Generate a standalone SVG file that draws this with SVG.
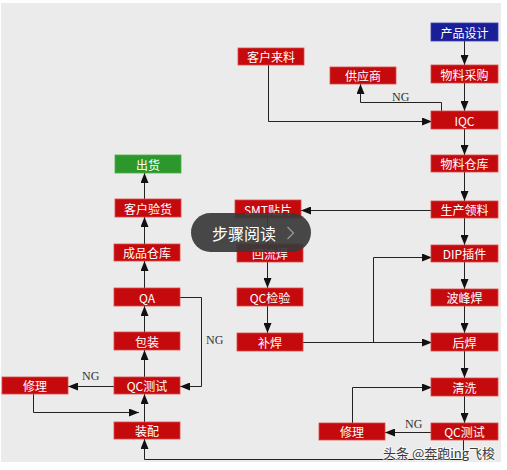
<svg xmlns="http://www.w3.org/2000/svg" width="507" height="470" viewBox="0 0 507 470">
<defs>
<style>
.bx{fill:#c50a0d;stroke:#dc4a4a;stroke-width:0.8}
.blue{fill:#1a1f98;stroke:#3a40b0;stroke-width:0.8}
.green{fill:#2c982c;stroke:#4cb04c;stroke-width:0.8}
.t{font-family:"Noto Sans CJK SC","Liberation Sans",sans-serif;font-size:12px;fill:#ffffff;text-anchor:middle;dominant-baseline:central}
.c{fill:none;stroke:#222222;stroke-width:1}
.ng{font-family:"Liberation Serif","Noto Sans CJK SC",serif;font-size:12px;fill:#333333}
</style>
<marker id="ah" viewBox="0 0 10 8" refX="10" refY="4" markerWidth="10" markerHeight="8" markerUnits="userSpaceOnUse" orient="auto">
<path d="M0,0 L10,4 L0,8 z" fill="#111111"/>
</marker>
</defs>
<rect x="0" y="0" width="507" height="470" fill="#ffffff"/>
<rect x="1" y="3" width="500" height="459" fill="#ebebeb"/>

<g id="connectors">
<path class="c" marker-end="url(#ah)" d="M464.5,41 V65"/>
<path class="c" marker-end="url(#ah)" d="M464.5,83 V111"/>
<path class="c" marker-end="url(#ah)" d="M464.5,129 V155"/>
<path class="c" marker-end="url(#ah)" d="M464.5,172 V201"/>
<path class="c" marker-end="url(#ah)" d="M464.5,218 V245"/>
<path class="c" marker-end="url(#ah)" d="M464.5,262 V289"/>
<path class="c" marker-end="url(#ah)" d="M464.5,306 V333"/>
<path class="c" marker-end="url(#ah)" d="M464.5,351 V378"/>
<path class="c" marker-end="url(#ah)" d="M464.5,396 V423"/>
<path class="c" marker-end="url(#ah)" d="M268.5,65 V121.5 H432"/>
<path class="c" marker-end="url(#ah)" d="M441.5,111 V102.5 H360.5 V84"/>
<path class="c" marker-end="url(#ah)" d="M432,210.5 H301"/>
<path class="c" marker-end="url(#ah)" d="M267.5,218 V244"/>
<path class="c" marker-end="url(#ah)" d="M267.5,262 V288"/>
<path class="c" marker-end="url(#ah)" d="M267.5,306 V333"/>
<path class="c" marker-end="url(#ah)" d="M303,342.5 H432"/>
<path class="c" marker-end="url(#ah)" d="M373.5,342.5 V257.5 H432"/>
<path class="c" marker-end="url(#ah)" d="M432,432.5 H385"/>
<path class="c" marker-end="url(#ah)" d="M352.5,423 V387.5 H432"/>
<path class="c" marker-end="url(#ah)" d="M463.5,440 V459.5 H144.5 V439"/>
<path class="c" marker-end="url(#ah)" d="M144.5,422 V394"/>
<path class="c" marker-end="url(#ah)" d="M144.5,377 V350"/>
<path class="c" marker-end="url(#ah)" d="M144.5,332 V306"/>
<path class="c" marker-end="url(#ah)" d="M144.5,288 V261"/>
<path class="c" marker-end="url(#ah)" d="M144.5,244 V217"/>
<path class="c" marker-end="url(#ah)" d="M144.5,199 V173"/>
<path class="c" marker-end="url(#ah)" d="M114,386.5 H68"/>
<path class="c" marker-end="url(#ah)" d="M33.5,394 V412.5 H139"/>
<path class="c" marker-end="url(#ah)" d="M180,297.5 H201.5 V386.5 H180"/>
<text class="ng" x="392" y="101">NG</text>
<text class="ng" x="405" y="428">NG</text>
<text class="ng" x="82" y="380">NG</text>
<text class="ng" x="206" y="344">NG</text>
</g>

<g id="n-design"><rect class="blue" x="431" y="23" width="67" height="18"/><text class="t" x="464.5" y="32">产品设计</text></g>
<g id="n-purchase"><rect class="bx" x="431" y="65" width="67" height="18"/><text class="t" x="464.5" y="74">物料采购</text></g>
<g id="n-iqc"><rect class="bx" x="431" y="111" width="67" height="18"/><text class="t" x="464.5" y="120">IQC</text></g>
<g id="n-warehouse"><rect class="bx" x="431" y="155" width="67" height="17"/><text class="t" x="464.5" y="163.5">物料仓库</text></g>
<g id="n-pick"><rect class="bx" x="431" y="201" width="67" height="17"/><text class="t" x="464.5" y="209.5">生产领料</text></g>
<g id="n-dip"><rect class="bx" x="431" y="245" width="67" height="17"/><text class="t" x="464.5" y="253.5">DIP插件</text></g>
<g id="n-wave"><rect class="bx" x="431" y="289" width="67" height="17"/><text class="t" x="464.5" y="297.5">波峰焊</text></g>
<g id="n-post"><rect class="bx" x="431" y="333" width="67" height="18"/><text class="t" x="464.5" y="342">后焊</text></g>
<g id="n-clean"><rect class="bx" x="431" y="378" width="67" height="18"/><text class="t" x="464.5" y="387">清洗</text></g>
<g id="n-qctest-r"><rect class="bx" x="431" y="423" width="67" height="17"/><text class="t" x="464.5" y="431.5">QC测试</text></g>
<g id="n-repair-r"><rect class="bx" x="319" y="423" width="66" height="17"/><text class="t" x="352" y="431.5">修理</text></g>

<g id="n-customer"><rect class="bx" x="238" y="48" width="66" height="17"/><text class="t" x="271" y="56.5">客户来料</text></g>
<g id="n-supplier"><rect class="bx" x="330" y="67" width="66" height="17"/><text class="t" x="363" y="75.5">供应商</text></g>

<g id="n-smt"><rect class="bx" x="235" y="200" width="66" height="18"/><text class="t" x="268" y="209">SMT贴片</text></g>
<g id="n-reflow"><rect class="bx" x="237" y="244" width="66" height="18"/><text class="t" x="270" y="253">回流焊</text></g>
<g id="n-qccheck"><rect class="bx" x="237" y="288" width="66" height="18"/><text class="t" x="270" y="297">QC检验</text></g>
<g id="n-touchup"><rect class="bx" x="237" y="333" width="66" height="18"/><text class="t" x="270" y="342">补焊</text></g>

<g id="n-ship"><rect class="green" x="115" y="155" width="66" height="18"/><text class="t" x="148" y="164">出货</text></g>
<g id="n-inspect"><rect class="bx" x="115" y="199" width="66" height="18"/><text class="t" x="148" y="208">客户验货</text></g>
<g id="n-fgwh"><rect class="bx" x="114" y="244" width="66" height="17"/><text class="t" x="147" y="252.5">成品仓库</text></g>
<g id="n-qa"><rect class="bx" x="114" y="288" width="66" height="18"/><text class="t" x="147" y="297">QA</text></g>
<g id="n-pack"><rect class="bx" x="114" y="332" width="66" height="18"/><text class="t" x="147" y="341">包装</text></g>
<g id="n-qctest-l"><rect class="bx" x="114" y="377" width="66" height="17"/><text class="t" x="147" y="385.5">QC测试</text></g>
<g id="n-repair-l"><rect class="bx" x="2" y="377" width="66" height="17"/><text class="t" x="35" y="385.5">修理</text></g>
<g id="n-assembly"><rect class="bx" x="114" y="422" width="66" height="17"/><text class="t" x="147" y="430.5">装配</text></g>

<g id="overlay">
<rect x="191" y="213" width="120" height="39" rx="19.5" fill="#3a3a3a" fill-opacity="0.93"/>
<text x="212" y="240" font-family="Noto Sans CJK SC,sans-serif" font-size="16" fill="#ffffff">步骤阅读</text>
<polyline points="287.5,227 293.5,233 287.5,239" fill="none" stroke="#9a9a9a" stroke-width="1.2"/>
</g>
<text x="383" y="458" font-family="Noto Sans CJK SC,sans-serif" font-size="13" fill="#3a3a3a" stroke="#ffffff" stroke-width="2" stroke-opacity="0.6" paint-order="stroke">头条 @奔跑ing飞梭</text>
</svg>
